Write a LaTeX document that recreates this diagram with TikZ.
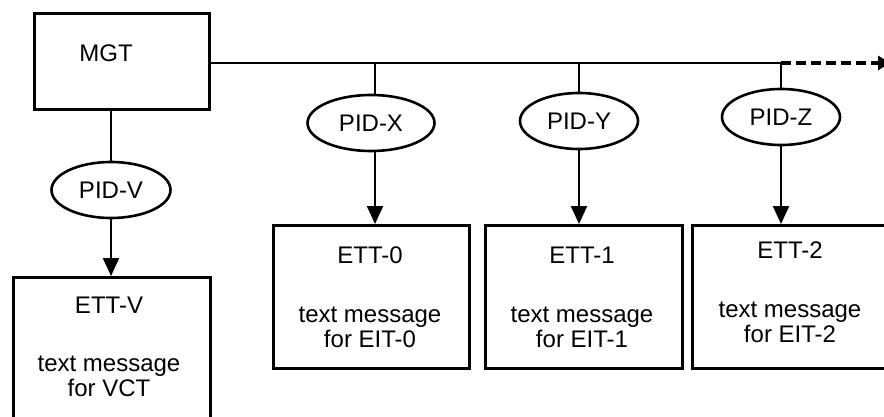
\documentclass[tikz,border=0pt]{standalone}
\usepackage{fontspec}
\setmainfont{Liberation Sans}
\usetikzlibrary{shapes.geometric,arrows.meta}
\begin{document}
\begin{tikzpicture}[x=1pt,y=-1pt,
  box/.style={draw,line width=2.8pt,rectangle,inner sep=0pt,fill=white},
  pid/.style={draw,line width=2.6pt,ellipse,inner sep=0pt,minimum height=56pt,fill=white,font=\fontsize{24}{25}\selectfont},
  lbl/.style={inner sep=0pt,align=center,anchor=north,font=\fontsize{24}{25}\selectfont},
  conn/.style={line width=2pt},
  arr/.style={line width=2.2pt,-{Triangle[length=18pt,width=16pt]}},
  dasharr/.style={line width=3.6pt,dash pattern=on 10pt off 5pt,-{Triangle[length=12pt,width=14pt]}}]
\useasboundingbox (0,0) rectangle (884,417);

% boxes
\node[box,minimum width=175pt,minimum height=96pt,anchor=north west] (MGT) at (33,12) {};
\node[lbl] (mgtt) at (106,45) {MGT};
\node[box,minimum width=197pt,minimum height=170pt,anchor=north west] (ettV) at (12,276) {};
\node[box,minimum width=196pt,minimum height=143pt,anchor=north west] (ett0) at (272,224) {};
\node[box,minimum width=197pt,minimum height=143pt,anchor=north west] (ett1) at (484,224) {};
\node[box,minimum width=220pt,minimum height=143pt,anchor=north west] (ett2) at (691,224) {};

\node[lbl] (ettVt) at (109,297) {ETT-V\\[33pt]text message\\for VCT};
\node[lbl] (ett0t) at (370,247) {ETT-0\\[34pt]text message\\for EIT-0};
\node[lbl] (ett1t) at (582,247) {ETT-1\\[34pt]text message\\for EIT-1};
\node[lbl] (ett2t) at (790,242) {ETT-2\\[34pt]text message\\for EIT-2};

% ellipses
\node[pid,minimum width=119pt] (pidV) at (111,190) {PID-V};
\node[pid,minimum width=127pt] (pidX) at (371,123) {PID-X};
\node[pid,minimum width=118pt] (pidY) at (579,121) {PID-Y};
\node[pid,minimum width=118pt] (pidZ) at (781,117) {PID-Z};

% bus coordinates
\coordinate (tX) at (375,63);
\coordinate (tY) at (579,63);
\coordinate (tZ) at (781,63);
\coordinate (busEnd) at (890,63);

\draw[conn] (MGT.east |- tZ) -- (tZ);
\draw[dasharr] (tZ) -- (busEnd);

\draw[conn] (MGT.south -| pidV.north) -- (pidV.north);
\draw[arr] (pidV.south) -- (pidV.south |- ettV.north);

\draw[conn] (tX) -- (tX |- pidX.north);
\draw[arr] (tX |- pidX.south) -- (tX |- ett0.north);

\draw[conn] (tY) -- (pidY.north);
\draw[arr] (pidY.south) -- (pidY.south |- ett1.north);

\draw[conn] (tZ) -- (pidZ.north);
\draw[arr] (pidZ.south) -- (pidZ.south |- ett2.north);
\end{tikzpicture}
\end{document}
